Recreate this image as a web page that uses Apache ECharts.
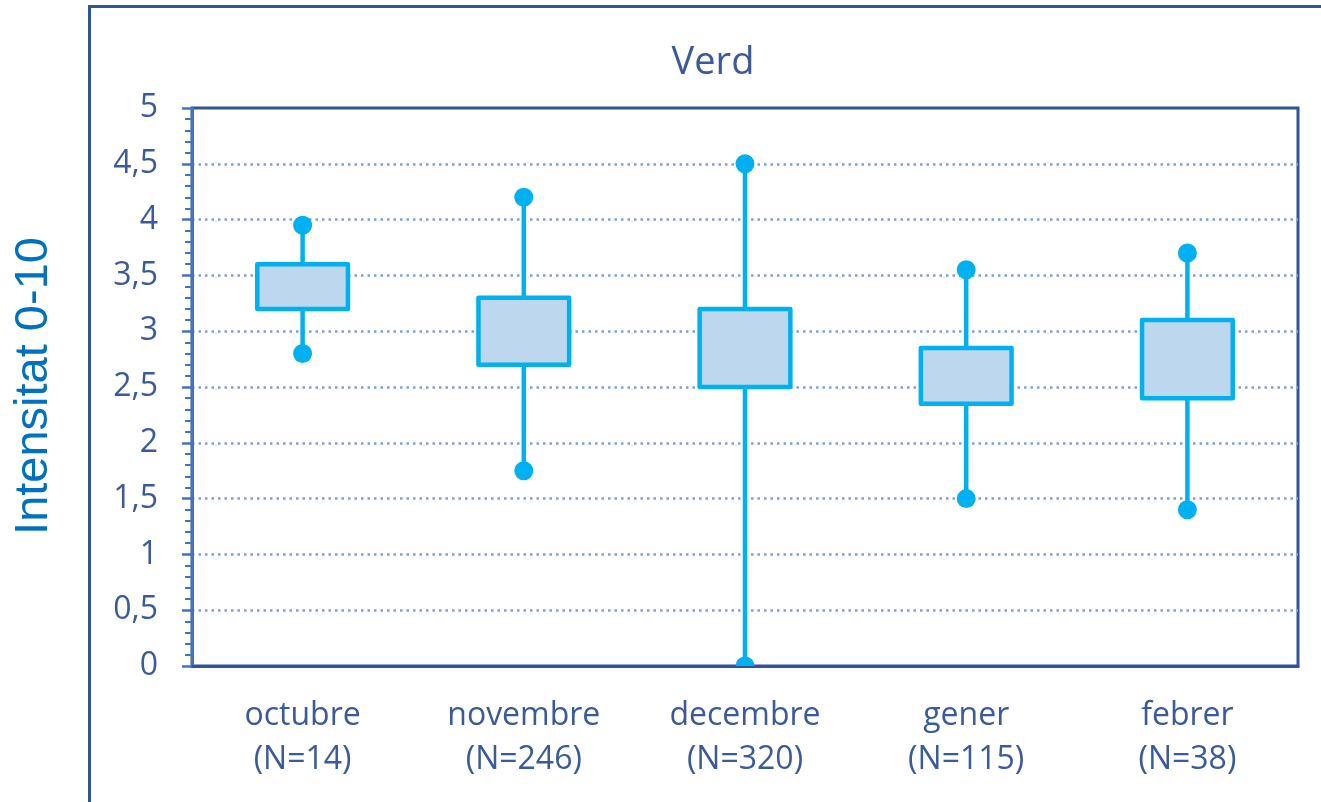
<!DOCTYPE html>
<html>
<head>
<meta charset="utf-8">
<script src="https://cdn.jsdelivr.net/npm/echarts@6/dist/echarts.min.js"></script>
<style>
  html, body { margin: 0; padding: 0; background: #ffffff; }
  #chart { width: 1321px; height: 802px; }
</style>
</head>
<body>
<div id="chart"></div>
<script>
// Months and sample sizes shown under each box
var months = ['octubre', 'novembre', 'decembre', 'gener', 'febrer'];
var counts = [14, 246, 320, 115, 38];

// Box statistics per month (intensity 0-10 scale)
var whiskerLow  = [2.8, 1.75, 0.0, 1.5, 1.4];
var quartileLow = [3.2, 2.7, 2.5, 2.35, 2.4];
var quartileHigh = [3.6, 3.3, 3.2, 2.85, 3.1];
var whiskerHigh = [3.95, 4.2, 4.5, 3.55, 3.7];

// Value axis ticks
var yMin = 0, yMax = 5, yStep = 0.5;

var categoryLabels = months.map(function (m, i) { return m + '\n(N=' + counts[i] + ')'; });
var boxRows = months.map(function (m, i) {
  return [i, whiskerLow[i], quartileLow[i], quartileHigh[i], whiskerHigh[i]];
});

var TEXT = '#3A5A9B';
var DARK = '#2F5597';
var AXIS = '#4472C4';
var CYAN = '#00B0F0';
var FILL = '#BDD7EE';
var FONT = '"Open Sans", Lato, sans-serif';

var chart = echarts.init(document.getElementById('chart'), null, { renderer: 'canvas' });

// Box from the quartiles, whiskers ending in round dots
function renderBox(params, api) {
  var idx = api.value(0);
  var lo = api.coord([idx, api.value(1)]);
  var q1 = api.coord([idx, api.value(2)]);
  var q3 = api.coord([idx, api.value(3)]);
  var hi = api.coord([idx, api.value(4)]);
  var bw = api.size([1, 0])[0] * 0.41;
  var x = lo[0];
  var lineStyle = { stroke: CYAN, lineWidth: 4.5 };
  return {
    type: 'group',
    children: [
      { type: 'line', shape: { x1: x, y1: hi[1], x2: x, y2: q3[1] }, style: lineStyle },
      { type: 'line', shape: { x1: x, y1: q1[1], x2: x, y2: lo[1] }, style: lineStyle },
      { type: 'rect', shape: { x: x - bw / 2, y: q3[1], width: bw, height: q1[1] - q3[1] },
        style: { fill: FILL, stroke: CYAN, lineWidth: 4.5, lineJoin: 'round' } },
      { type: 'circle', shape: { cx: x, cy: hi[1], r: 9.5 }, style: { fill: CYAN } },
      { type: 'circle', shape: { cx: x, cy: lo[1], r: 9.5 }, style: { fill: CYAN } }
    ]
  };
}

chart.setOption({
  animation: false,
  backgroundColor: '#ffffff',
  grid: {
    left: 192, top: 108, right: 23, bottom: 136,
    show: true, borderColor: DARK, borderWidth: 3, backgroundColor: 'transparent'
  },
  xAxis: {
    type: 'category',
    data: categoryLabels,
    boundaryGap: true,
    axisLine: { lineStyle: { color: DARK, width: 3 } },
    axisTick: { show: false },
    axisLabel: {
      color: TEXT, fontFamily: FONT, fontSize: 32, lineHeight: 44, margin: 28
    },
    splitLine: { show: false }
  },
  yAxis: {
    type: 'value',
    min: yMin, max: yMax, interval: yStep,
    axisLine: { show: true, lineStyle: { color: AXIS, width: 3 } },
    axisTick: { show: true, length: 10, lineStyle: { color: AXIS, width: 2.5 } },
    minorTick: { show: true, splitNumber: 5, length: 7, lineStyle: { color: AXIS, width: 2 } },
    axisLabel: {
      color: TEXT, fontFamily: FONT, fontSize: 32, margin: 34,
      formatter: function (v) { return String(v).replace('.', ','); }
    },
    splitLine: {
      show: true, showMinLine: false, showMaxLine: false,
      lineStyle: { color: '#7F9FD8', width: 2.5, type: [2.5, 4] }
    }
  },
  graphic: [
    {
      type: 'rect', silent: true, z: 0,
      shape: { x: 89.5, y: 6.5, width: 1300, height: 900 },
      style: { fill: 'none', stroke: DARK, lineWidth: 3 }
    },
    {
      type: 'text', silent: true,
      x: 713, y: 63,
      style: {
        text: 'Verd', fill: TEXT,
        font: '38px ' + FONT,
        textAlign: 'center', textVerticalAlign: 'middle'
      }
    },
    {
      type: 'text', silent: true,
      x: 34.5, y: 386, rotation: Math.PI / 2,
      style: {
        text: 'Intensitat 0-10', fill: '#0070C0',
        font: '47px "Liberation Sans", Arial, sans-serif',
        textAlign: 'center', textVerticalAlign: 'middle'
      }
    }
  ],
  series: [{
    type: 'custom',
    renderItem: renderBox,
    clip: true,
    encode: { x: 0, y: [1, 2, 3, 4] },
    data: boxRows,
    z: 5
  }]
});
</script>
</body>
</html>
